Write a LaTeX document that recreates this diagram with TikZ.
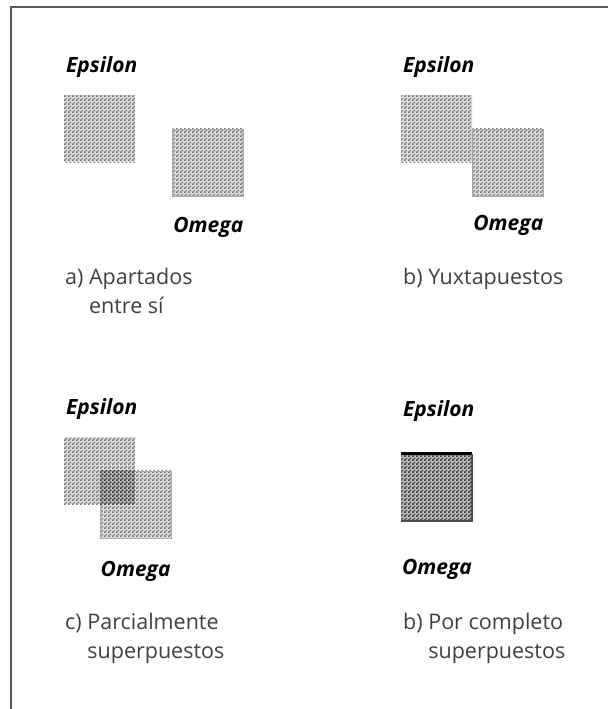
\documentclass[tikz,border=0pt]{standalone}
\usepackage{fontspec}
\setmainfont{Open Sans}
\usetikzlibrary{positioning,patterns.meta}

\tikzdeclarepattern{
  name=chk,
  type=uncolored,
  bottom left={(0pt,0pt)},
  top right={(4pt,4pt)},
  tile size={(4pt,4pt)},
  code={
    \pgfpathrectangle{\pgfpointorigin}{\pgfpoint{2pt}{2pt}}
    \pgfpathrectangle{\pgfpoint{2pt}{2pt}}{\pgfpoint{2pt}{2pt}}
    \pgfusepath{fill}
  }
}

\begin{document}
\begin{tikzpicture}[
    x=1pt, y=-1pt,
    sq/.style={rectangle, minimum width=71pt, minimum height=67pt, inner sep=0pt, preaction={fill=gray!25}, pattern=chk, pattern color=black!55},
    omsq/.style={sq, draw=gray!65, line width=0.8pt},
    fullsq/.style={sq, preaction={fill=gray!55}, pattern color=black!80},
    tag/.style={inner sep=0pt, font=\fontsize{21}{24}\selectfont\bfseries\itshape},
    capt/.style={inner sep=0pt, align=left, text=black!75, font=\fontsize{21.5}{29}\selectfont},
    frame/.style={draw=black!65, line width=1.2pt},
]
    \useasboundingbox (0,0) rectangle (608,709);
    \draw [frame] (608,7) -- (11,7) -- (11,709);

    % a) apart
    \node [sq] (epsA) at (99.5,128.5) {};
    \node [omsq, anchor=north west, xshift=37pt] (omeA) at (epsA.east) {};
    \node [tag, above right=17pt and 2pt of epsA.north west] (epsLabA) {Epsilon};
    \node [tag, below right=21pt and 1pt of omeA.south west] (omeLabA) {Omega};
    \node [capt, anchor=north west] (capA) at (65,268) {a) Apartados\\\phantom{a) }entre sí};

    % b) side by side
    \node [sq] (epsB) at (436.5,128.5) {};
    \node [omsq, anchor=north west] (omeB) at (epsB.east) {};
    \node [tag, above right=17pt and 2pt of epsB.north west] (epsLabB) {Epsilon};
    \node [tag, below right=19pt and 1pt of omeB.south west] (omeLabB) {Omega};
    \node [capt, anchor=north west] (capB) at (403,268) {b) Yuxtapuestos};

    % c) partial overlap
    \node [sq] (epsC) at (99.5,470.5) {};
    \node [omsq, anchor=north west] (omeC) at (epsC.center) {};
    \fill [gray!55, postaction={pattern=chk, pattern color=black!80}] (omeC.north west) rectangle (epsC.south east);
    \node [tag, above right=17pt and 2pt of epsC.north west] (epsLabC) {Epsilon};
    \node [tag, below right=23pt and 1pt of omeC.south west] (omeLabC) {Omega};
    \node [capt, anchor=north west] (capC) at (65,613) {c) Parcialmente\\\phantom{c) }superpuestos};

    % d) full overlap
    \node [fullsq] (sqD) at (436.5,487.5) {};
    \draw [line width=3pt] (sqD.north west) -- (sqD.north east);
    \draw [black!70, line width=1.5pt] (sqD.north east) -- (sqD.south east) -- (sqD.south west);
    \node [tag, above right=32pt and 2pt of sqD.north west] (epsLabD) {Epsilon};
    \node [tag, below right=38pt and 1pt of sqD.south west] (omeLabD) {Omega};
    \node [capt, anchor=north west] (capD) at (403,613) {b) Por completo\\\phantom{b) }superpuestos};
\end{tikzpicture}
\end{document}
